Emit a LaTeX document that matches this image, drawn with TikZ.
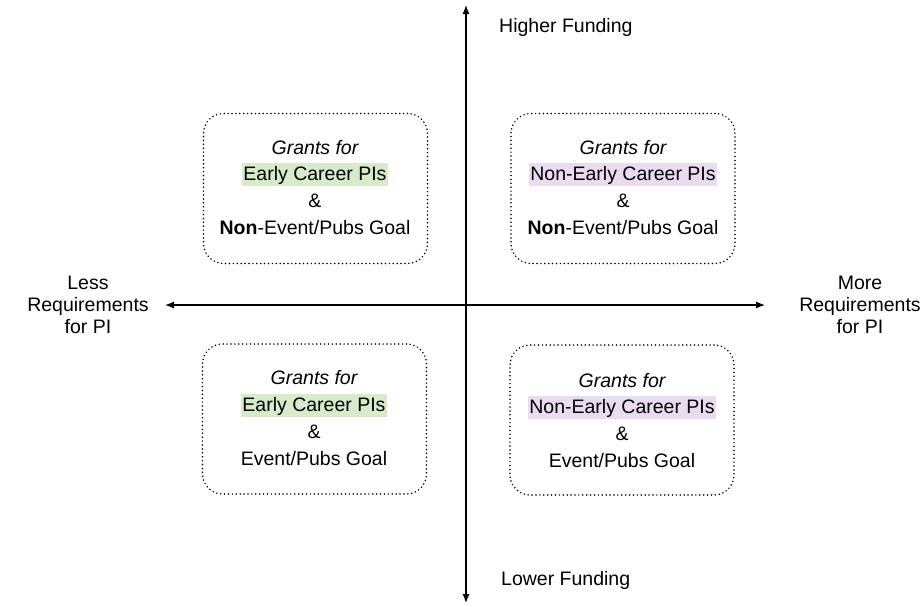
\documentclass[tikz,border=0pt]{standalone}
\usepackage{fontspec}
\setmainfont{Liberation Sans}
\usetikzlibrary{arrows.meta}
\definecolor{earlyhl}{HTML}{D7EAC9}
\definecolor{latehl}{HTML}{EADCF0}
\begin{document}
\begin{tikzpicture}[x=1pt,y=-1pt,
  font=\fontsize{19.5}{22}\selectfont,
  quad/.style={draw, line width=1.7pt, line cap=round,
    dash pattern=on 0pt off 3.9pt, rounded corners=20pt,
    minimum width=224pt, minimum height=150pt, inner sep=0pt},
  axis/.style={line width=1.2pt, {Latex[length=9pt,width=7pt]}-{Latex[length=9pt,width=7pt]}},
  txt/.style={anchor=base, inner sep=0pt},
  hl/.style={anchor=base, inner xsep=1.5pt, inner ysep=0pt, text height=17.5pt, text depth=5.5pt},
  side/.style={align=center, inner sep=0pt}]
  \useasboundingbox (0,0) rectangle (924,606);

  % axes
  \coordinate (top) at (466,5);
  \coordinate (bottom) at (466,603);
  \coordinate (left) at (165,305);
  \coordinate (right) at (765,305);
  \draw[axis] (bottom) -- (top);
  \draw[axis] (left) -- (right);

  % axis labels
  \node[txt, anchor=base west] (hi) at (499,32) {Higher Funding};
  \node[txt, anchor=base west] (lo) at (501,585) {Lower Funding};
  \node[side] (less) at (88,304.5) {Less\\Requirements\\for PI};
  \node[side] (more) at (860,304.5) {More\\Requirements\\for PI};

  % quadrant boxes
  \node[quad] (tl) at (315.5,188.5) {};
  \node[quad] (tr) at (623,188.5) {};
  \node[quad] (bl) at (314.5,419) {};
  \node[quad] (br) at (622,420) {};

  % top left
  \node[txt] (tl1) at (315,154) {\itshape Grants for};
  \node[hl, fill=earlyhl] (tl2) at (315,180) {Early Career PIs};
  \node[txt] (tl3) at (315,207) {\&};
  \node[txt] (tl4) at (315,234) {\textbf{Non}-Event/Pubs Goal};

  % top right
  \node[txt] (tr1) at (623,154) {\itshape Grants for};
  \node[hl, fill=latehl] (tr2) at (623,180) {Non-Early Career PIs};
  \node[txt] (tr3) at (623,207) {\&};
  \node[txt] (tr4) at (623,234) {\textbf{Non}-Event/Pubs Goal};

  % bottom left
  \node[txt] (bl1) at (314,384) {\itshape Grants for};
  \node[hl, fill=earlyhl] (bl2) at (314,411) {Early Career PIs};
  \node[txt] (bl3) at (314,438) {\&};
  \node[txt] (bl4) at (314,465) {Event/Pubs Goal};

  % bottom right
  \node[txt] (br1) at (622,387) {\itshape Grants for};
  \node[hl, fill=latehl] (br2) at (622,413) {Non-Early Career PIs};
  \node[txt] (br3) at (622,440) {\&};
  \node[txt] (br4) at (622,467) {Event/Pubs Goal};
\end{tikzpicture}
\end{document}
